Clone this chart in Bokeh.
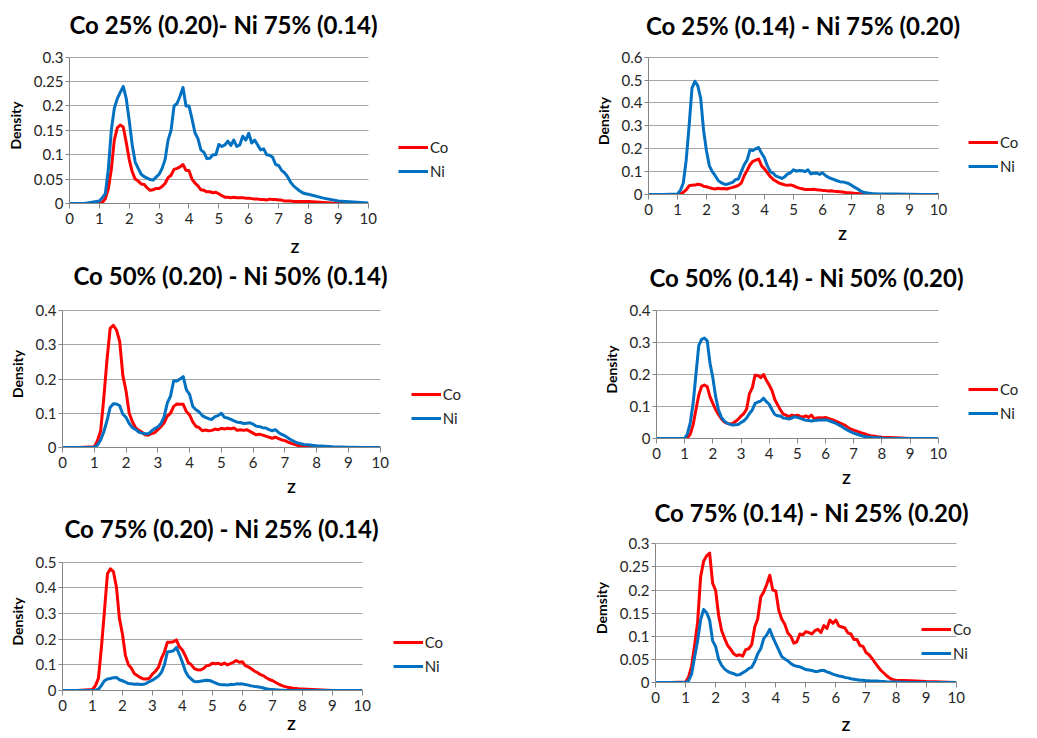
from bokeh.plotting import figure
from bokeh.models import (Range1d, FixedTicker, CustomJSTickFormatter, Legend,
                          LegendItem, Label, Grid)
from bokeh.layouts import column, row
from bokeh.embed import file_html
from bokeh.resources import INLINE

# ---------------- data ----------------
Z = [0.0, 0.5,
     1.0, 1.1, 1.2, 1.3, 1.4, 1.5, 1.6, 1.7, 1.8, 1.9,
     2.0, 2.1, 2.2, 2.3, 2.4, 2.5, 2.6, 2.7, 2.8, 2.9,
     3.0, 3.1, 3.2, 3.3, 3.4, 3.5, 3.6, 3.7, 3.8, 3.9,
     4.0, 4.1, 4.2, 4.3, 4.4, 4.5, 4.6, 4.7, 4.8, 4.9,
     5.0, 5.1, 5.2, 5.3, 5.4, 5.5, 5.6, 5.7, 5.8, 5.9,
     6.0, 6.1, 6.2, 6.3, 6.4, 6.5, 6.6, 6.7, 6.8, 6.9,
     7.0, 7.1, 7.2, 7.3, 7.4, 7.5, 7.6, 7.7, 7.8, 7.9,
     8.0, 8.5, 9.0, 9.5, 10.0]

CO_1 = [0, 0,
        0, 0.002, 0.01, 0.03, 0.07, 0.13, 0.155, 0.161, 0.157, 0.125,
        0.09, 0.065, 0.05, 0.046, 0.04, 0.039, 0.032, 0.027, 0.028, 0.031,
        0.031, 0.035, 0.041, 0.053, 0.058, 0.07, 0.072, 0.075, 0.08, 0.068,
        0.067, 0.05, 0.042, 0.036, 0.028, 0.027, 0.024, 0.024, 0.022, 0.023,
        0.02, 0.016, 0.013, 0.013, 0.012, 0.013, 0.012, 0.012, 0.012, 0.011,
        0.011, 0.01, 0.009, 0.009, 0.008, 0.008, 0.007, 0.009, 0.008, 0.008,
        0.007, 0.007, 0.005, 0.005, 0.005, 0.004, 0.004, 0.004, 0.004, 0.004,
        0.004, 0.002, 0, 0, 0]
NI_1 = [0, 0,
        0.005, 0.012, 0.02, 0.07, 0.15, 0.195, 0.215, 0.228, 0.24, 0.215,
        0.17, 0.12, 0.085, 0.072, 0.06, 0.055, 0.052, 0.049, 0.048, 0.054,
        0.06, 0.072, 0.09, 0.13, 0.15, 0.2, 0.205, 0.22, 0.238, 0.2,
        0.2, 0.174, 0.145, 0.133, 0.11, 0.105, 0.092, 0.093, 0.1, 0.1,
        0.121, 0.117, 0.12, 0.128, 0.119, 0.13, 0.117, 0.12, 0.138, 0.13,
        0.144, 0.124, 0.13, 0.12, 0.11, 0.112, 0.1, 0.099, 0.095, 0.08,
        0.078, 0.068, 0.063, 0.055, 0.044, 0.036, 0.031, 0.026, 0.022, 0.02,
        0.019, 0.011, 0.005, 0.003, 0.001]

CO_2 = [0, 0,
        0, 0.002, 0.01, 0.02, 0.038, 0.04, 0.041, 0.045, 0.043, 0.036,
        0.034, 0.03, 0.026, 0.024, 0.027, 0.025, 0.026, 0.024, 0.028, 0.031,
        0.035, 0.04, 0.05, 0.082, 0.105, 0.13, 0.145, 0.15, 0.155, 0.125,
        0.112, 0.095, 0.078, 0.066, 0.058, 0.05, 0.046, 0.042, 0.04, 0.042,
        0.038, 0.032, 0.028, 0.025, 0.022, 0.022, 0.022, 0.023, 0.021, 0.02,
        0.018, 0.017, 0.015, 0.016, 0.014, 0.013, 0.012, 0.011, 0.009, 0.008,
        0.007, 0.005, 0.004, 0.003, 0.002, 0.001, 0, 0, 0, 0,
        0, 0, 0, 0, 0]
NI_2 = [0, 0,
        0.002, 0.018, 0.05, 0.15, 0.3, 0.465, 0.495, 0.475, 0.42, 0.28,
        0.19, 0.125, 0.1, 0.082, 0.062, 0.052, 0.046, 0.044, 0.049, 0.053,
        0.065, 0.068, 0.1, 0.13, 0.15, 0.195, 0.192, 0.2, 0.205, 0.18,
        0.16, 0.125, 0.1, 0.093, 0.08, 0.076, 0.07, 0.078, 0.09, 0.095,
        0.108, 0.102, 0.105, 0.104, 0.1, 0.108, 0.09, 0.093, 0.094, 0.088,
        0.095, 0.083, 0.075, 0.07, 0.065, 0.06, 0.056, 0.055, 0.052, 0.048,
        0.04, 0.032, 0.025, 0.016, 0.01, 0.008, 0.006, 0.004, 0.003, 0.002,
        0.002, 0.002, 0.001, 0, 0]

CO_3 = [0, 0,
        0.002, 0.02, 0.048, 0.145, 0.255, 0.348, 0.357, 0.343, 0.31, 0.21,
        0.165, 0.1, 0.075, 0.058, 0.05, 0.045, 0.037, 0.036, 0.041, 0.043,
        0.052, 0.061, 0.072, 0.092, 0.1, 0.12, 0.127, 0.126, 0.126, 0.105,
        0.095, 0.075, 0.062, 0.058, 0.049, 0.051, 0.049, 0.05, 0.054, 0.052,
        0.056, 0.054, 0.056, 0.055, 0.057, 0.05, 0.052, 0.05, 0.052, 0.047,
        0.042, 0.037, 0.039, 0.036, 0.033, 0.03, 0.027, 0.03, 0.026, 0.022,
        0.02, 0.016, 0.012, 0.009, 0.006, 0.005, 0.003, 0.002, 0.002, 0.001,
        0, 0, 0, 0, 0]
NI_3 = [0, 0,
        0.001, 0.007, 0.022, 0.046, 0.078, 0.117, 0.128, 0.127, 0.122, 0.097,
        0.088, 0.07, 0.058, 0.053, 0.045, 0.042, 0.04, 0.04, 0.048, 0.055,
        0.06, 0.07, 0.09, 0.13, 0.15, 0.195, 0.194, 0.2, 0.207, 0.168,
        0.155, 0.12, 0.11, 0.104, 0.093, 0.088, 0.084, 0.082, 0.09, 0.093,
        0.1, 0.088, 0.086, 0.082, 0.078, 0.074, 0.073, 0.07, 0.071, 0.072,
        0.068, 0.062, 0.061, 0.058, 0.057, 0.052, 0.049, 0.052, 0.044, 0.038,
        0.034, 0.028, 0.022, 0.017, 0.013, 0.011, 0.009, 0.008, 0.007, 0.006,
        0.005, 0.002, 0.001, 0, 0]

CO_4 = [0, 0,
        0, 0.002, 0.014, 0.043, 0.09, 0.135, 0.163, 0.167, 0.162, 0.13,
        0.11, 0.09, 0.075, 0.062, 0.052, 0.048, 0.045, 0.047, 0.053, 0.06,
        0.07, 0.078, 0.092, 0.14, 0.158, 0.198, 0.197, 0.19, 0.2, 0.182,
        0.167, 0.15, 0.122, 0.105, 0.089, 0.076, 0.073, 0.068, 0.073, 0.071,
        0.073, 0.069, 0.067, 0.071, 0.066, 0.073, 0.062, 0.064, 0.065, 0.064,
        0.066, 0.063, 0.06, 0.057, 0.053, 0.049, 0.045, 0.041, 0.034, 0.029,
        0.026, 0.023, 0.02, 0.017, 0.014, 0.011, 0.009, 0.008, 0.006, 0.005,
        0.004, 0.002, 0, 0, 0]
NI_4 = [0, 0,
        0.001, 0.015, 0.05, 0.11, 0.2, 0.29, 0.31, 0.314, 0.305, 0.235,
        0.19, 0.13, 0.09, 0.067, 0.055, 0.048, 0.045, 0.042, 0.043, 0.044,
        0.05, 0.055, 0.064, 0.078, 0.089, 0.11, 0.114, 0.117, 0.126, 0.115,
        0.107, 0.09, 0.075, 0.071, 0.07, 0.064, 0.063, 0.061, 0.064, 0.068,
        0.066, 0.063, 0.06, 0.057, 0.056, 0.055, 0.056, 0.057, 0.058, 0.058,
        0.058, 0.057, 0.053, 0.05, 0.046, 0.041, 0.036, 0.03, 0.025, 0.021,
        0.017, 0.014, 0.011, 0.008, 0.006, 0.005, 0.004, 0.003, 0.002, 0.002,
        0.001, 0, 0, 0, 0]

CO_5 = [0, 0,
        0.004, 0.019, 0.048, 0.17, 0.31, 0.455, 0.474, 0.463, 0.403, 0.28,
        0.22, 0.136, 0.1, 0.087, 0.065, 0.058, 0.05, 0.045, 0.045, 0.048,
        0.064, 0.075, 0.09, 0.125, 0.15, 0.188, 0.188, 0.19, 0.197, 0.17,
        0.158, 0.135, 0.108, 0.1, 0.085, 0.081, 0.08, 0.085, 0.096, 0.098,
        0.106, 0.104, 0.106, 0.101, 0.107, 0.1, 0.105, 0.11, 0.117, 0.11,
        0.112, 0.097, 0.092, 0.085, 0.076, 0.07, 0.062, 0.058, 0.05, 0.043,
        0.039, 0.032, 0.026, 0.02, 0.016, 0.013, 0.011, 0.009, 0.008, 0.006,
        0.006, 0.003, 0, 0, 0]
NI_5 = [0, 0,
        0, 0.001, 0.005, 0.02, 0.038, 0.045, 0.047, 0.05, 0.051, 0.042,
        0.038, 0.033, 0.027, 0.026, 0.024, 0.025, 0.023, 0.024, 0.028, 0.035,
        0.04, 0.048, 0.056, 0.07, 0.1, 0.15, 0.152, 0.155, 0.168, 0.14,
        0.11, 0.075, 0.055, 0.044, 0.035, 0.034, 0.036, 0.038, 0.04, 0.039,
        0.035, 0.03, 0.025, 0.022, 0.022, 0.021, 0.023, 0.023, 0.026, 0.025,
        0.026, 0.023, 0.021, 0.018, 0.016, 0.015, 0.013, 0.01, 0.007, 0.005,
        0.004, 0.003, 0.002, 0.001, 0.001, 0, 0, 0, 0, 0,
        0, 0, 0, 0, 0]

CO_6 = [0, 0,
        0.001, 0.012, 0.035, 0.08, 0.13, 0.228, 0.262, 0.274, 0.28, 0.215,
        0.199, 0.145, 0.112, 0.095, 0.08, 0.072, 0.062, 0.058, 0.06, 0.057,
        0.071, 0.073, 0.082, 0.12, 0.138, 0.185, 0.196, 0.212, 0.232, 0.2,
        0.198, 0.156, 0.137, 0.126, 0.107, 0.1, 0.085, 0.088, 0.105, 0.103,
        0.11, 0.108, 0.105, 0.112, 0.115, 0.108, 0.123, 0.117, 0.135, 0.128,
        0.135, 0.122, 0.12, 0.118, 0.107, 0.105, 0.093, 0.093, 0.08, 0.078,
        0.065, 0.06, 0.052, 0.043, 0.034, 0.026, 0.02, 0.014, 0.009, 0.006,
        0.005, 0.004, 0.002, 0.001, 0]
NI_6 = [0, 0,
        0, 0.004, 0.018, 0.055, 0.09, 0.135, 0.158, 0.151, 0.135, 0.09,
        0.078, 0.05, 0.037, 0.029, 0.024, 0.021, 0.019, 0.016, 0.017, 0.021,
        0.025, 0.03, 0.033, 0.045, 0.062, 0.073, 0.095, 0.103, 0.115, 0.098,
        0.084, 0.07, 0.056, 0.051, 0.047, 0.041, 0.037, 0.035, 0.034, 0.031,
        0.028, 0.027, 0.026, 0.024, 0.024, 0.026, 0.026, 0.023, 0.021, 0.018,
        0.016, 0.014, 0.013, 0.011, 0.01, 0.008, 0.007, 0.006, 0.005, 0.005,
        0.004, 0.004, 0.003, 0.003, 0.003, 0.002, 0.002, 0.001, 0.001, 0.001,
        0.001, 0, 0, 0, 0]

TITLES = ["Co 25% (0.20)- Ni 75% (0.14)", "Co 25% (0.14) - Ni 75% (0.20)",
          "Co 50% (0.20) - Ni 50% (0.14)", "Co 50% (0.14) - Ni 50% (0.20)",
          "Co 75% (0.20) - Ni 25% (0.14)", "Co 75% (0.14) - Ni 25% (0.20)"]
Y_LABELS = ["Density", "Density", "Density", "Density", "Density", "Demsity"]
X_LABEL = "Z"
X_TICKS = [0, 1, 2, 3, 4, 5, 6, 7, 8, 9, 10]
Y_TICKS_1 = [0, 0.05, 0.1, 0.15, 0.2, 0.25, 0.3]
Y_TICKS_2 = [0, 0.1, 0.2, 0.3, 0.4, 0.5, 0.6]
Y_TICKS_3 = [0, 0.1, 0.2, 0.3, 0.4]
Y_TICKS_4 = [0, 0.1, 0.2, 0.3, 0.4]
Y_TICKS_5 = [0, 0.1, 0.2, 0.3, 0.4, 0.5]
Y_TICKS_6 = [0, 0.05, 0.1, 0.15, 0.2, 0.25, 0.3]
SERIES_NAMES = ["Co", "Ni"]

# ---------------- style / layout ----------------
RED = "#FF0000"
BLUE = "#0070C0"
GRID = "#A6A6A6"
AXIS = "#868686"
TXT = "#262626"
FONT = "Lato"

# column (left, width); block top / plot top / plot bottom on the page;
# pixel position of the data area (x=0, x=10, y=0, y=top tick);
# title centre; legend anchor (glyph left x, Ni row centre y); Z standoff
GEOM = [
    ((0, 520), (0, 47, 260), (69.3, 368.0, 203.3, 56.7), (223, 24), (398, 171), 12),
    ((520, 516), (0, 47, 248), (647.7, 937.7, 194.3, 56.7), (802.5, 25), (968, 165.7), 8),
    ((0, 520), (260, 300, 499), (62.3, 380.0, 446.7, 310.0), (230, 275), (410.7, 418), 8),
    ((520, 516), (248, 300, 491), (656.0, 937.7, 437.7, 310.0), (806, 276.7), (968, 413), 8),
    ((0, 520), (499, 552, 737), (62.0, 361.7, 690.0, 561.7), (221, 528), (392.7, 665.7), 2),
    ((520, 516), (491, 533, 737), (655.0, 955.7, 682.3, 543.3), (811, 511.7), (921, 653.3), 11),
]

tick_fmt = CustomJSTickFormatter(code="return String(Math.round(tick*1000)/1000);")
HAS_CROSS = "cross_bounds" in Grid.properties()


def make_title(i):
    (cl, cw), (bt, pt, pb), _, (tcx, tcy), _, _ = GEOM[i]
    h = pt - bt
    t = figure(width=cw, height=h, title=None, x_axis_type=None, y_axis_type=None,
               x_range=Range1d(0, 1), y_range=Range1d(0, 1),
               min_border=0, min_border_left=0, min_border_right=0,
               min_border_top=0, min_border_bottom=0,
               output_backend="svg", toolbar_location=None,
               background_fill_color="white", border_fill_color="white")
    t.frame_align = False
    t.outline_line_color = None
    t.add_layout(Label(x=tcx - cl, y=h - (tcy - bt), x_units="screen", y_units="screen",
                       text=TITLES[i], text_align="center", text_baseline="middle",
                       text_font=FONT, text_font_size="24px",
                       text_font_style="bold", text_color="black"))
    return t


def make_panel(i, co, ni, yticks):
    (cl, cw), (bt, pt, pb), (x0, x10, y0, ytop), _, (gx, gy), zst = GEOM[i]
    ymax = yticks[-1]
    fh = pb - pt
    left = int(round(x0 - cl))
    bottom = int(round(pb - y0))
    frame_w = cw - left
    frame_h = fh - bottom
    y0i = pb - bottom
    x_end = 10.0 * frame_w / (x10 - x0)
    y_end = ymax * frame_h / (y0i - ytop)

    p = figure(width=cw, height=fh, title=None,
               min_border_left=left, min_border_right=0,
               min_border_top=0, min_border_bottom=bottom,
               x_range=Range1d(0, x_end), y_range=Range1d(0, y_end),
               output_backend="svg", toolbar_location=None,
               background_fill_color="white", border_fill_color="white")
    p.frame_align = False
    p.outline_line_color = None

    p.xaxis.ticker = FixedTicker(ticks=X_TICKS)
    p.yaxis.ticker = FixedTicker(ticks=yticks)
    p.yaxis.formatter = tick_fmt
    p.xaxis.formatter = tick_fmt
    p.xaxis.bounds = (0, 10)
    p.yaxis.bounds = (0, ymax)
    for ax in (p.xaxis[0], p.yaxis[0]):
        ax.axis_line_color = AXIS
        ax.major_tick_line_color = AXIS
        ax.major_tick_in = 0
        ax.minor_tick_line_color = None
        ax.major_label_text_font = FONT
        ax.major_label_text_font_size = "15px"
        ax.major_label_text_color = TXT
        ax.axis_label_text_font = FONT
        ax.axis_label_text_font_size = "14px"
        ax.axis_label_text_font_style = "bold"
        ax.axis_label_text_color = "black"
    p.xaxis.major_tick_out = 5
    p.xaxis.major_label_standoff = 4
    p.yaxis.major_tick_out = 4
    p.yaxis.major_label_standoff = 2
    p.xaxis.axis_label = X_LABEL
    p.yaxis.axis_label = Y_LABELS[i]
    p.xaxis.axis_label_standoff = zst
    p.yaxis.axis_label_standoff = 7
    p.xgrid.grid_line_color = None
    p.ygrid.grid_line_color = GRID
    p.ygrid.grid_line_width = 1
    if HAS_CROSS:
        p.ygrid[0].cross_bounds = (0, 10)
    else:
        p.ygrid.grid_line_color = None
        p.segment(x0=[0] * len(yticks), y0=yticks, x1=[10] * len(yticks), y1=yticks,
                  line_color=GRID, line_width=1)

    r_co = p.line(Z, co, line_color=RED, line_width=3, line_join="round")
    r_ni = p.line(Z, ni, line_color=BLUE, line_width=3, line_join="round")

    legend = Legend(items=[LegendItem(label=SERIES_NAMES[0], renderers=[r_co]),
                           LegendItem(label=SERIES_NAMES[1], renderers=[r_ni])],
                    location=(gx - (cl + left), y0i - (gy + 10)),
                    orientation="vertical",
                    glyph_width=30, glyph_height=20, label_standoff=2,
                    spacing=4, padding=0, margin=0,
                    border_line_color=None, background_fill_alpha=0,
                    label_text_font=FONT, label_text_font_size="15px",
                    label_text_color=TXT)
    p.add_layout(legend)
    return p


series = [(CO_1, NI_1, Y_TICKS_1), (CO_2, NI_2, Y_TICKS_2), (CO_3, NI_3, Y_TICKS_3),
          (CO_4, NI_4, Y_TICKS_4), (CO_5, NI_5, Y_TICKS_5), (CO_6, NI_6, Y_TICKS_6)]
blocks = []
for i, (co, ni, yt) in enumerate(series):
    blocks.append(make_title(i))
    blocks.append(make_panel(i, co, ni, yt))

left_col = column(blocks[0], blocks[1], blocks[4], blocks[5], blocks[8], blocks[9], spacing=0)
right_col = column(blocks[2], blocks[3], blocks[6], blocks[7], blocks[10], blocks[11], spacing=0)
layout = row(left_col, right_col, spacing=0)

open("out.html", "w").write(file_html(layout, INLINE))
